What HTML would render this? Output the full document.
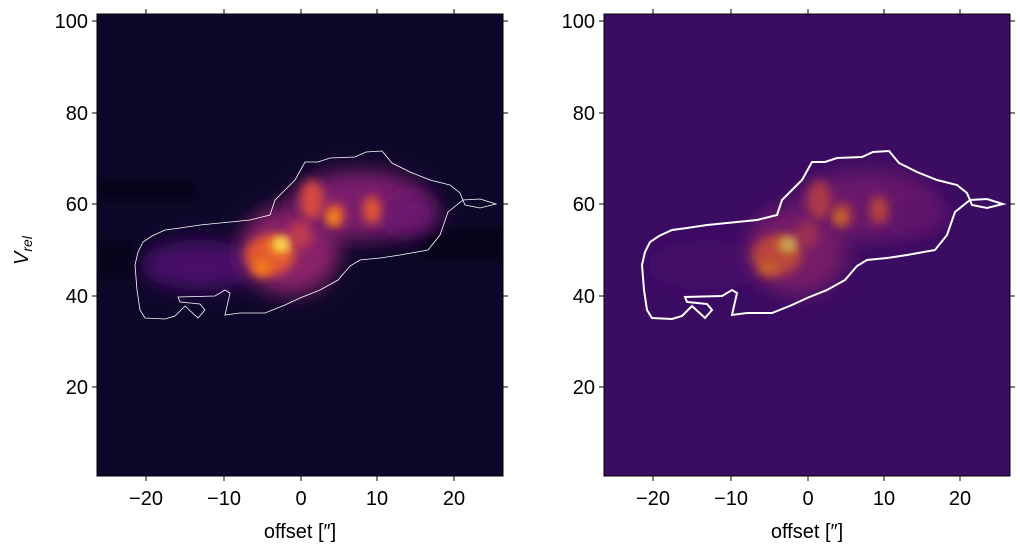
<!DOCTYPE html>
<html><head><meta charset="utf-8"><style>
body{margin:0;background:#fff;width:1020px;height:553px;overflow:hidden}
text{font-family:"Liberation Sans",sans-serif;fill:#000}
</style></head><body>
<svg width="1020" height="553" viewBox="0 0 1020 553" xmlns="http://www.w3.org/2000/svg">
<defs>
<filter id="b1" x="-50%" y="-50%" width="200%" height="200%"><feGaussianBlur stdDeviation="10"/></filter>
<filter id="b2" x="-50%" y="-50%" width="200%" height="200%"><feGaussianBlur stdDeviation="5"/></filter>
<clipPath id="c1"><rect x="97" y="14" width="406" height="462"/></clipPath>
<clipPath id="c2"><rect x="604" y="14" width="406" height="462"/></clipPath>
<path id="cont" d="M135,265 L137,290 L140,310 L145,318 L165,319 L175,316 L185,306 L198,318 L205,310 L200,304 L180,302 L178,297 L215,296 L225,290 L230,293 L225,315 L240,313 L265,313 L285,305 L300,298 L320,290 L338,280 L350,266 L360,260 L380,258 L400,255 L428,250 L440,235 L448,212 L463,200 L480,199 L496,204 L480,208 L465,205 L460,193 L450,185 L430,180 L410,172 L392,163 L382,151 L366,152 L355,157 L330,158 L318,162 L305,162 L295,180 L285,190 L275,200 L270,215 L250,220 L200,225 L180,228 L165,230 L152,236 L143,242 L138,252 Z"/>
<g id="blobs">
<ellipse cx="200" cy="265" rx="60" ry="25" fill="#4a0c6b" filter="url(#b1)"/>
<ellipse cx="290" cy="250" rx="50" ry="45" fill="#8a226a" filter="url(#b1)"/>
<ellipse cx="360" cy="205" rx="70" ry="35" fill="#7a1d6d" filter="url(#b1)"/>
<ellipse cx="410" cy="215" rx="30" ry="20" fill="#6a176e" filter="url(#b1)"/>
<ellipse cx="270" cy="255" rx="25" ry="20" fill="#e35933" filter="url(#b2)"/>
<ellipse cx="312" cy="200" rx="12" ry="20" fill="#d44842" filter="url(#b2)"/>
<ellipse cx="335" cy="215" rx="10" ry="12" fill="#e35933" filter="url(#b2)"/>
<ellipse cx="372" cy="210" rx="9" ry="14" fill="#e35933" filter="url(#b2)"/>
<ellipse cx="300" cy="235" rx="12" ry="14" fill="#c03a50" filter="url(#b2)"/>
<ellipse cx="262" cy="268" rx="10" ry="8" fill="#f57d15" filter="url(#b2)"/>
<ellipse cx="280" cy="245" rx="10" ry="9" fill="#fbb61a" filter="url(#b2)"/>
<ellipse cx="282" cy="244" rx="5" ry="5" fill="#fcffa4" filter="url(#b2)"/>
<ellipse cx="333" cy="218" rx="5" ry="6" fill="#fca50a" filter="url(#b2)"/>
</g>
</defs>
<g clip-path="url(#c1)">
<rect x="97" y="14" width="406" height="462" fill="#0d0829"/>
<rect x="97" y="180" width="100" height="20" fill="#050310" opacity="0.6" filter="url(#b2)"/>
<rect x="420" y="230" width="90" height="30" fill="#050310" opacity="0.6" filter="url(#b2)"/>
<rect x="97" y="240" width="40" height="40" fill="#050310" opacity="0.5" filter="url(#b2)"/>
<use href="#blobs"/>
<use href="#cont" fill="none" stroke="#fff" stroke-width="0.8"/>
</g>
<rect x="97" y="14" width="406" height="462" fill="none" stroke="#000" stroke-width="1"/>
<g clip-path="url(#c2)">
<rect x="604" y="14" width="406" height="462" fill="#3a0c62"/>
<g transform="translate(507,0)" opacity="0.75"><use href="#blobs"/></g>
<use href="#cont" transform="translate(507,0)" fill="none" stroke="#fff" stroke-width="2"/>
</g>
<rect x="604" y="14" width="406" height="462" fill="none" stroke="#000" stroke-width="1"/>
<g stroke="#000" stroke-width="1">
<path d="M146,476v5M224,476v5M301,476v5M377,476v5M454,476v5M146,14v-5M224,14v-5M301,14v-5M377,14v-5M454,14v-5"/>
<path d="M97,21h-5M97,113h-5M97,204h-5M97,296h-5M97,387h-5M503,21h5M503,113h5M503,204h5M503,296h5M503,387h5"/>
<path d="M653,476v5M731,476v5M808,476v5M884,476v5M960,476v5M653,14v-5M731,14v-5M808,14v-5M884,14v-5M960,14v-5"/>
<path d="M604,21h-5M604,113h-5M604,204h-5M604,296h-5M604,387h-5M1010,21h5M1010,113h5M1010,204h5M1010,296h5M1010,387h5"/>
</g>
<g font-size="20" text-anchor="middle">
<text x="146" y="505">−20</text><text x="224" y="505">−10</text><text x="301" y="505">0</text><text x="377" y="505">10</text><text x="454" y="505">20</text>
<text x="653" y="505">−20</text><text x="731" y="505">−10</text><text x="808" y="505">0</text><text x="884" y="505">10</text><text x="960" y="505">20</text>
<text x="300" y="538">offset [″]</text><text x="807" y="538">offset [″]</text>
</g>
<g font-size="20" text-anchor="end">
<text x="88" y="28">100</text><text x="88" y="120">80</text><text x="88" y="211">60</text><text x="88" y="303">40</text><text x="88" y="394">20</text>
<text x="595" y="28">100</text><text x="595" y="120">80</text><text x="595" y="211">60</text><text x="595" y="303">40</text><text x="595" y="394">20</text>
</g>
<text transform="translate(28,265) rotate(-90)" font-size="20" font-style="italic">V<tspan font-size="14" dy="4">rel</tspan></text>
</svg>
</body></html>
